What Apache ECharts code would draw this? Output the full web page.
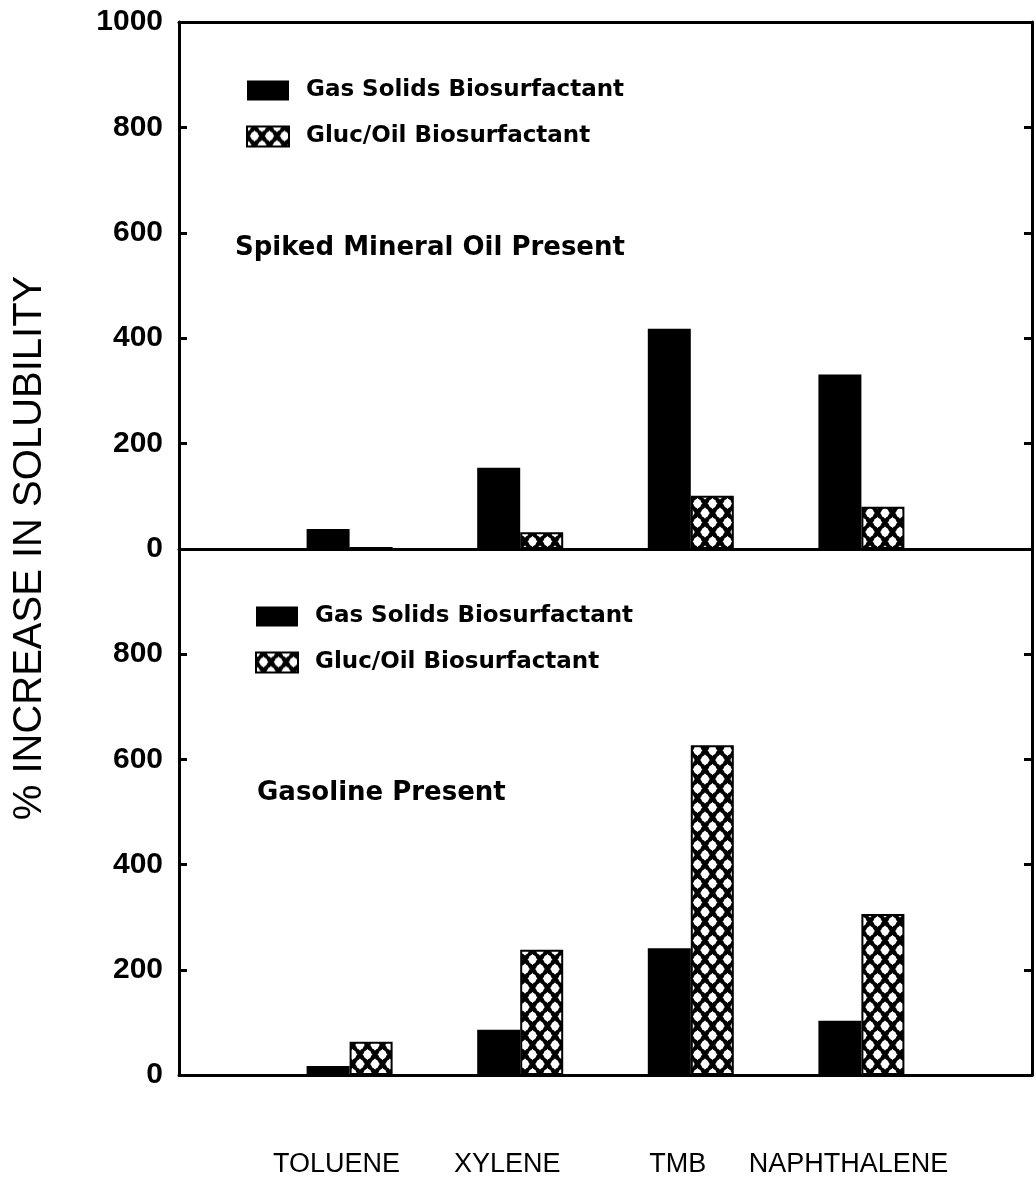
<!DOCTYPE html>
<html>
<head>
<meta charset="utf-8">
<script src="https://cdn.jsdelivr.net/npm/echarts@6/dist/echarts.min.js"></script>
<style>
html,body{margin:0;padding:0;background:#fff;}
#chart{width:1036px;height:1178px;}
</style>
</head>
<body>
<div id="chart"></div>
<script>
const categories = ['TOLUENE', 'XYLENE', 'TMB', 'NAPHTHALENE'];
const seriesNames = ['Gas Solids Biosurfactant', 'Gluc/Oil Biosurfactant'];
const oilGasSolids = [38, 154, 418, 331];
const oilGlucOil = [4, 32, 101, 80];
const gasolineGasSolids = [17, 86, 241, 103];
const gasolineGlucOil = [63, 238, 627, 306];
const yTickValues = [0, 200, 400, 600, 800, 1000];
const panelTitles = ['Spiked Mineral Oil Present', 'Gasoline Present'];
const yTitle = '% INCREASE IN SOLUBILITY';

function makePattern() {
  const w = 15, h = 19;
  const c = document.createElement('canvas');
  c.width = w; c.height = h;
  const g = c.getContext('2d');
  g.fillStyle = '#000';
  g.fillRect(0, 0, w, h);
  g.fillStyle = '#fff';
  const pts = [[w / 2, h / 2], [0, 0], [w, 0], [0, h], [w, h]];
  pts.forEach(([x, y]) => {
    g.beginPath();
    g.moveTo(x, y - 5.8);
    g.quadraticCurveTo(x + 1.8, y - 1.8, x + 5.0, y);
    g.quadraticCurveTo(x + 1.8, y + 1.8, x, y + 5.8);
    g.quadraticCurveTo(x - 1.8, y + 1.8, x - 5.0, y);
    g.quadraticCurveTo(x - 1.8, y - 1.8, x, y - 5.8);
    g.closePath();
    g.fill();
    g.beginPath();
    g.ellipse(x, y, 3.9, 4.5, 0, 0, Math.PI * 2);
    g.fill();
  });
  return c;
}
const hatch = { image: makePattern(), repeat: 'repeat' };

const toPairs = arr => categories.map((c, i) => [i + 1, arr[i]]);

const chart = echarts.init(document.getElementById('chart'), null, { renderer: 'canvas' });

const axisFont = { fontFamily: 'Liberation Sans', fontSize: 30, fontWeight: 'bold', color: '#000' };
const lineStyle = { color: '#000', width: 3 };

function leftY(grid, hideTop) {
  return {
    type: 'value', gridIndex: grid, min: 0, max: 1000, interval: 200, position: 'left',
    axisLine: { show: true, onZero: false, lineStyle },
    axisTick: { show: true, inside: true, length: 8, lineStyle },
    splitLine: { show: false },
    axisLabel: Object.assign({ margin: 16, formatter: v => (hideTop && v === 1000) ? '' : (yTickValues.includes(v) ? String(v) : '') }, axisFont)
  };
}
function rightY(grid) {
  return {
    type: 'value', gridIndex: grid, min: 0, max: 1000, interval: 200, position: 'right',
    axisLine: { show: true, onZero: false, lineStyle },
    axisTick: { show: true, inside: true, length: 8, lineStyle },
    splitLine: { show: false },
    axisLabel: { show: false }
  };
}

const legendText = { fontFamily: 'DejaVu Sans', fontSize: 23, fontWeight: 'bold', color: '#000', padding: [0, 0, 0, 12], lineHeight: 20 };

function barSeries(name, data, x, y, pattern) {
  return {
    type: 'bar', name, xAxisIndex: x, yAxisIndex: y, data: toPairs(data),
    barWidth: 43, barGap: '0%',
    itemStyle: pattern
      ? { color: hatch, borderColor: '#000', borderWidth: 2 }
      : { color: '#000', borderColor: '#000', borderWidth: 0 },
    emphasis: { disabled: true },
    animation: false
  };
}

chart.setOption({
  animation: false,
  backgroundColor: '#fff',
  grid: [
    { left: 179, right: 4, top: 22, height: 527 },
    { left: 179, right: 4, top: 549, height: 527 }
  ],
  xAxis: [
    { type: 'value', gridIndex: 0, min: 0, max: 5, interval: 1, position: 'bottom',
      axisLine: { show: true, onZero: false, lineStyle }, axisTick: { show: false }, axisLabel: { show: false }, splitLine: { show: false } },
    { type: 'value', gridIndex: 0, min: 0, max: 5, interval: 1, position: 'top',
      axisLine: { show: true, onZero: false, lineStyle }, axisTick: { show: false }, axisLabel: { show: false }, splitLine: { show: false } },
    { type: 'value', gridIndex: 1, min: 0, max: 5, interval: 1, position: 'bottom',
      axisLine: { show: true, onZero: false, lineStyle }, axisTick: { show: false }, splitLine: { show: false },
      axisLabel: { show: true, margin: 76, fontFamily: 'Liberation Sans', fontSize: 27, color: '#000', padding: [0, 26, 0, 0],
        formatter: v => categories[v - 1] || '' } }
  ],
  yAxis: [leftY(0, false), rightY(0), leftY(1, true), rightY(1)],
  legend: [
    { orient: 'vertical', left: 246, top: 79, padding: 0, itemWidth: 42, itemHeight: 20, itemGap: 23,
      icon: 'rect', selectedMode: false, textStyle: legendText,
      data: [{ name: seriesNames[0] }, { name: seriesNames[1] }] },
    { orient: 'vertical', left: 255, top: 605, padding: 0, itemWidth: 42, itemHeight: 20, itemGap: 23,
      icon: 'rect', selectedMode: false, textStyle: legendText,
      data: [{ name: seriesNames[0] }, { name: seriesNames[1] }] }
  ],
  graphic: [
    { type: 'text', x: 235, y: 248, style: { text: panelTitles[0], font: 'bold 26px "DejaVu Sans"', fill: '#000', verticalAlign: 'middle' } },
    { type: 'text', x: 257, y: 793, style: { text: panelTitles[1], font: 'bold 26px "DejaVu Sans"', fill: '#000', verticalAlign: 'middle' } },
    { type: 'text', x: 30, y: 548, rotation: Math.PI / 2,
      style: { text: yTitle, font: '40px "Liberation Sans"', fill: '#000', align: 'center', verticalAlign: 'middle' } }
  ],
  series: [
    barSeries(seriesNames[0], oilGasSolids, 0, 0, false),
    barSeries(seriesNames[1], oilGlucOil, 0, 0, true),
    barSeries(seriesNames[0], gasolineGasSolids, 2, 2, false),
    barSeries(seriesNames[1], gasolineGlucOil, 2, 2, true)
  ]
});
</script>
</body>
</html>
